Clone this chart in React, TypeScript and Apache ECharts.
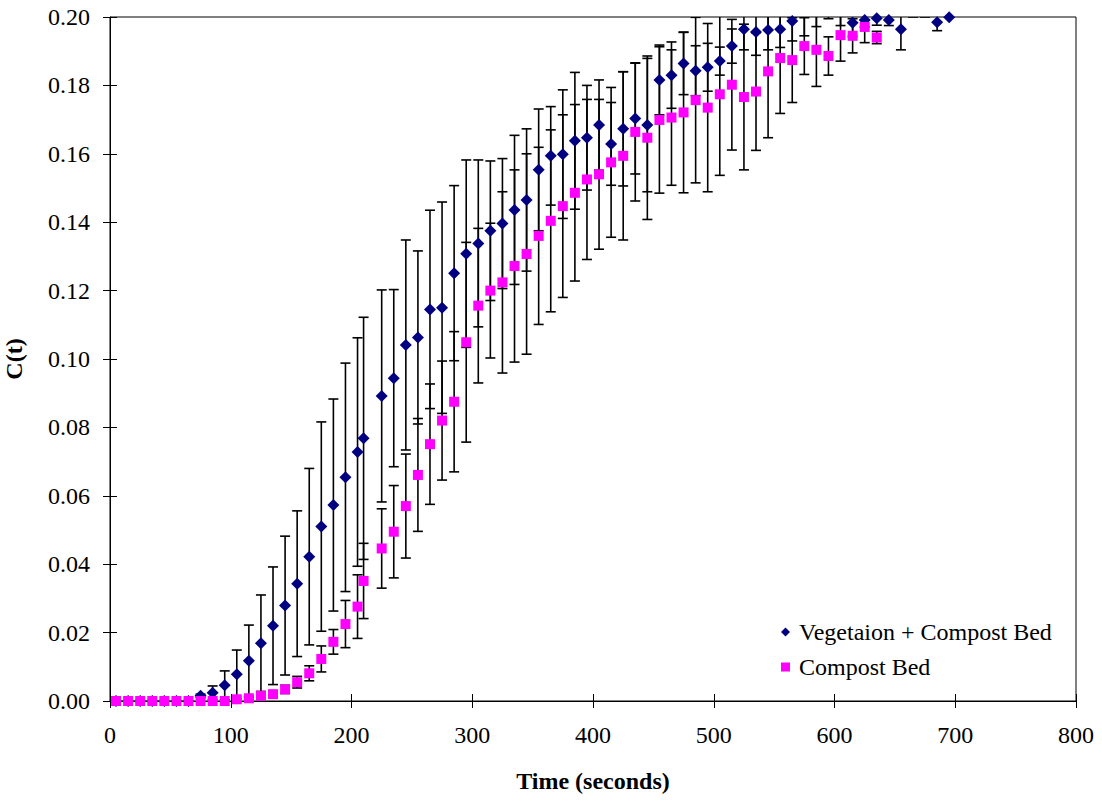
import React, { useEffect, useRef } from "react";
import * as echarts from "echarts";

const times = [
  5, 15, 25, 35, 45, 55, 65, 75, 85, 95, 105, 115, 125, 135, 145, 155, 165, 175, 185, 195,
  205, 210,
  225, 235, 245, 255, 265, 275, 285, 295, 305, 315, 325, 335, 345, 355, 365, 375, 385, 395,
  405, 415, 425, 435, 445, 455, 465, 475, 485, 495, 505, 515, 525, 535, 545, 555, 565, 575,
  585, 595, 605, 615, 625, 635, 645, 655, 665, 675, 685, 695,
];

const vegMean = [
  0, 0, 0, 0, 0, 0, 0, 0.0015, 0.0024, 0.0046, 0.0078, 0.0118, 0.0169, 0.022, 0.0279, 0.0343, 0.0422, 0.051, 0.0573, 0.0654,
  0.0728, 0.0768,
  0.0892, 0.0944, 0.1041, 0.1063, 0.1145, 0.115, 0.1251, 0.1308, 0.1338, 0.1375, 0.1396, 0.1436, 0.1465, 0.1553, 0.1594, 0.1599, 0.1638, 0.1647,
  0.1684, 0.1629, 0.1673, 0.1703, 0.1684, 0.1816, 0.183, 0.1864, 0.1843, 0.1853, 0.1871, 0.1915, 0.1964, 0.1956, 0.1962, 0.1964, 0.1988, 0.2015,
  0.203, 0.206, 0.203, 0.1983, 0.1991, 0.1996, 0.1991, 0.1964, 0.2015, 0.2015, 0.1985, 0.1999,
];

const vegErr = [
  0, 0, 0, 0, 0, 0, 0, 0.0005, 0.002, 0.0042, 0.0071, 0.0104, 0.0141, 0.0172, 0.0203, 0.0213, 0.0258, 0.0306, 0.031, 0.0334,
  0.0334, 0.0354,
  0.031, 0.0259, 0.0307, 0.0253, 0.029, 0.0309, 0.0256, 0.0274, 0.0244, 0.0204, 0.019, 0.0218, 0.0208, 0.0178, 0.0144, 0.0188, 0.02, 0.0153,
  0.0132, 0.0121, 0.0167, 0.0162, 0.0195, 0.0102, 0.0097, 0.0091, 0.0073, 0.007, 0.0041, 0.005, 0.006, 0.0068, 0.0058, 0.0053, 0.0058, 0.007,
  0.0058, 0.0065, 0.0055, 0.004, 0.002, 0.002, 0.0016, 0.006, 0.0015, 0.0015, 0.0025, 0,
];

const compMean = [
  0, 0, 0, 0, 0, 0, 0, 0, 0, 0, 0.0005, 0.0008, 0.0015, 0.002, 0.0034, 0.0055, 0.0081, 0.0123, 0.0173, 0.0225,
  0.0276, 0.0351,
  0.0446, 0.0495, 0.057, 0.0661, 0.0751, 0.082, 0.0875, 0.1049, 0.1156, 0.12, 0.1224, 0.1272, 0.1307, 0.136, 0.1404, 0.1447, 0.1486, 0.1525,
  0.154, 0.1575, 0.1594, 0.1664, 0.1647, 0.1699, 0.1706, 0.1721, 0.1757, 0.1735, 0.1774, 0.1802, 0.1766, 0.1782, 0.1841, 0.188, 0.1874, 0.1915,
  0.1904, 0.1886, 0.1947, 0.1945, 0.1971, 0.194,
];

const compErr = [
  0, 0, 0, 0, 0, 0, 0, 0, 0, 0, 0, 0.0003, 0.0005, 0.0008, 0.0012, 0.0017, 0.0022, 0.0038, 0.0036, 0.0069,
  0.0093, 0.011,
  0.0116, 0.0135, 0.0152, 0.0165, 0.0176, 0.0174, 0.0205, 0.0292, 0.0226, 0.0197, 0.0265, 0.0281, 0.0293, 0.0259, 0.0266, 0.0267, 0.0258, 0.0234,
  0.0219, 0.0219, 0.0246, 0.0202, 0.0239, 0.0214, 0.0198, 0.0235, 0.0242, 0.0246, 0.0237, 0.0191, 0.0213, 0.0172, 0.0194, 0.0162, 0.0124, 0.0083,
  0.0107, 0.0056, 0.0076, 0.005, 0.0046, 0.0018,
];

const SERIES_VEG = "Vegetaion + Compost Bed";
const SERIES_COMP = "Compost Bed";
const FONT = "'Liberation Serif', 'Times New Roman', serif";

function errorSeries(mean: number[], err: number[]) {
  const data = mean.map((m, i) => [times[i], m - err[i], m + err[i]]);
  return {
    type: "custom",
    silent: true,
    clip: true,
    z: 1,
    encode: { x: 0, y: [1, 2] },
    data,
    renderItem: (_params: any, api: any) => {
      const x = api.value(0);
      const lo = api.value(1);
      const hi = api.value(2);
      if (hi - lo <= 0) return null;
      const p1 = api.coord([x, hi]);
      const p2 = api.coord([x, lo]);
      const w = 5;
      const st = { stroke: "#000", lineWidth: 1.6 };
      return {
        type: "group",
        children: [
          { type: "line", shape: { x1: p1[0], y1: p1[1], x2: p2[0], y2: p2[1] }, style: st },
          { type: "line", shape: { x1: p1[0] - w, y1: p1[1], x2: p1[0] + w, y2: p1[1] }, style: st },
          { type: "line", shape: { x1: p2[0] - w, y1: p2[1], x2: p2[0] + w, y2: p2[1] }, style: st },
        ],
      };
    },
  };
}

export default function App() {
  const ref = useRef<HTMLDivElement>(null);
  useEffect(() => {
    if (!ref.current) return;
    const chart = echarts.init(ref.current, null, { renderer: "svg" });
    const axisText = { fontFamily: FONT, fontSize: 24, color: "#000" };
    chart.setOption({
      animation: false,
      backgroundColor: "#fff",
      grid: {
        left: 110,
        right: 26,
        top: 17,
        bottom: 100,
        containLabel: false,
        outerBoundsMode: "none",
        show: true,
        borderColor: "#000",
        borderWidth: 1,
        backgroundColor: "transparent",
      },
      legend: {
        orient: "vertical",
        left: 776,
        top: 615,
        itemWidth: 9,
        itemHeight: 9,
        itemGap: 11,
        textStyle: { fontFamily: FONT, fontSize: 24, color: "#000", padding: [0, 0, 0, 4] },
        data: [
          { name: SERIES_VEG, icon: "diamond" },
          { name: SERIES_COMP, icon: "rect" },
        ],
      },
      xAxis: [
        {
          type: "value",
          min: 0,
          max: 800,
          interval: 100,
          name: "Time (seconds)",
          nameLocation: "middle",
          nameGap: 68,
          nameTextStyle: { fontFamily: FONT, fontSize: 24, fontWeight: "bold", color: "#000" },
          axisLine: { show: true, lineStyle: { color: "#000", width: 1 } },
          axisTick: { show: true, inside: false, length: 7, lineStyle: { color: "#000" } },
          axisLabel: { ...axisText, margin: 22 },
          splitLine: { show: false },
        },
        {
          type: "value",
          min: 0,
          max: 800,
          interval: 100,
          position: "bottom",
          axisLine: { show: false },
          axisTick: { show: true, inside: true, length: 7, lineStyle: { color: "#000" } },
          axisLabel: { show: false },
          splitLine: { show: false },
        },
      ],
      yAxis: [
        {
          type: "value",
          min: 0,
          max: 0.2,
          interval: 0.02,
          name: "C(t)",
          nameLocation: "middle",
          nameGap: 84,
          nameRotate: 90,
          nameTextStyle: { fontFamily: FONT, fontSize: 24, fontWeight: "bold", color: "#000" },
          axisLine: { show: true, lineStyle: { color: "#000", width: 1 } },
          axisTick: { show: true, inside: false, length: 7, lineStyle: { color: "#000" } },
          axisLabel: { ...axisText, margin: 20, formatter: (v: number) => v.toFixed(2) },
          splitLine: { show: false },
        },
        {
          type: "value",
          min: 0,
          max: 0.2,
          interval: 0.02,
          position: "left",
          axisLine: { show: false },
          axisTick: { show: true, inside: true, length: 7, lineStyle: { color: "#000" } },
          axisLabel: { show: false },
          splitLine: { show: false },
        },
      ],
      series: [
        errorSeries(vegMean, vegErr),
        errorSeries(compMean, compErr),
        {
          name: SERIES_VEG,
          type: "scatter",
          symbol: "diamond",
          symbolSize: 12,
          itemStyle: { color: "#000080", opacity: 1 },
          z: 3,
          data: vegMean.map((v, i) => [times[i], v]),
        },
        {
          name: SERIES_COMP,
          type: "scatter",
          symbol: "rect",
          symbolSize: 10,
          itemStyle: { color: "#FF00FF", opacity: 1 },
          z: 4,
          data: compMean.map((v, i) => [times[i], v]),
        },
      ],
    });
    return () => chart.dispose();
  }, []);
  return (
    <div
      ref={ref}
      style={{ position: "absolute", left: 0, top: 0, width: 1102, height: 801, background: "#fff" }}
    />
  );
}
